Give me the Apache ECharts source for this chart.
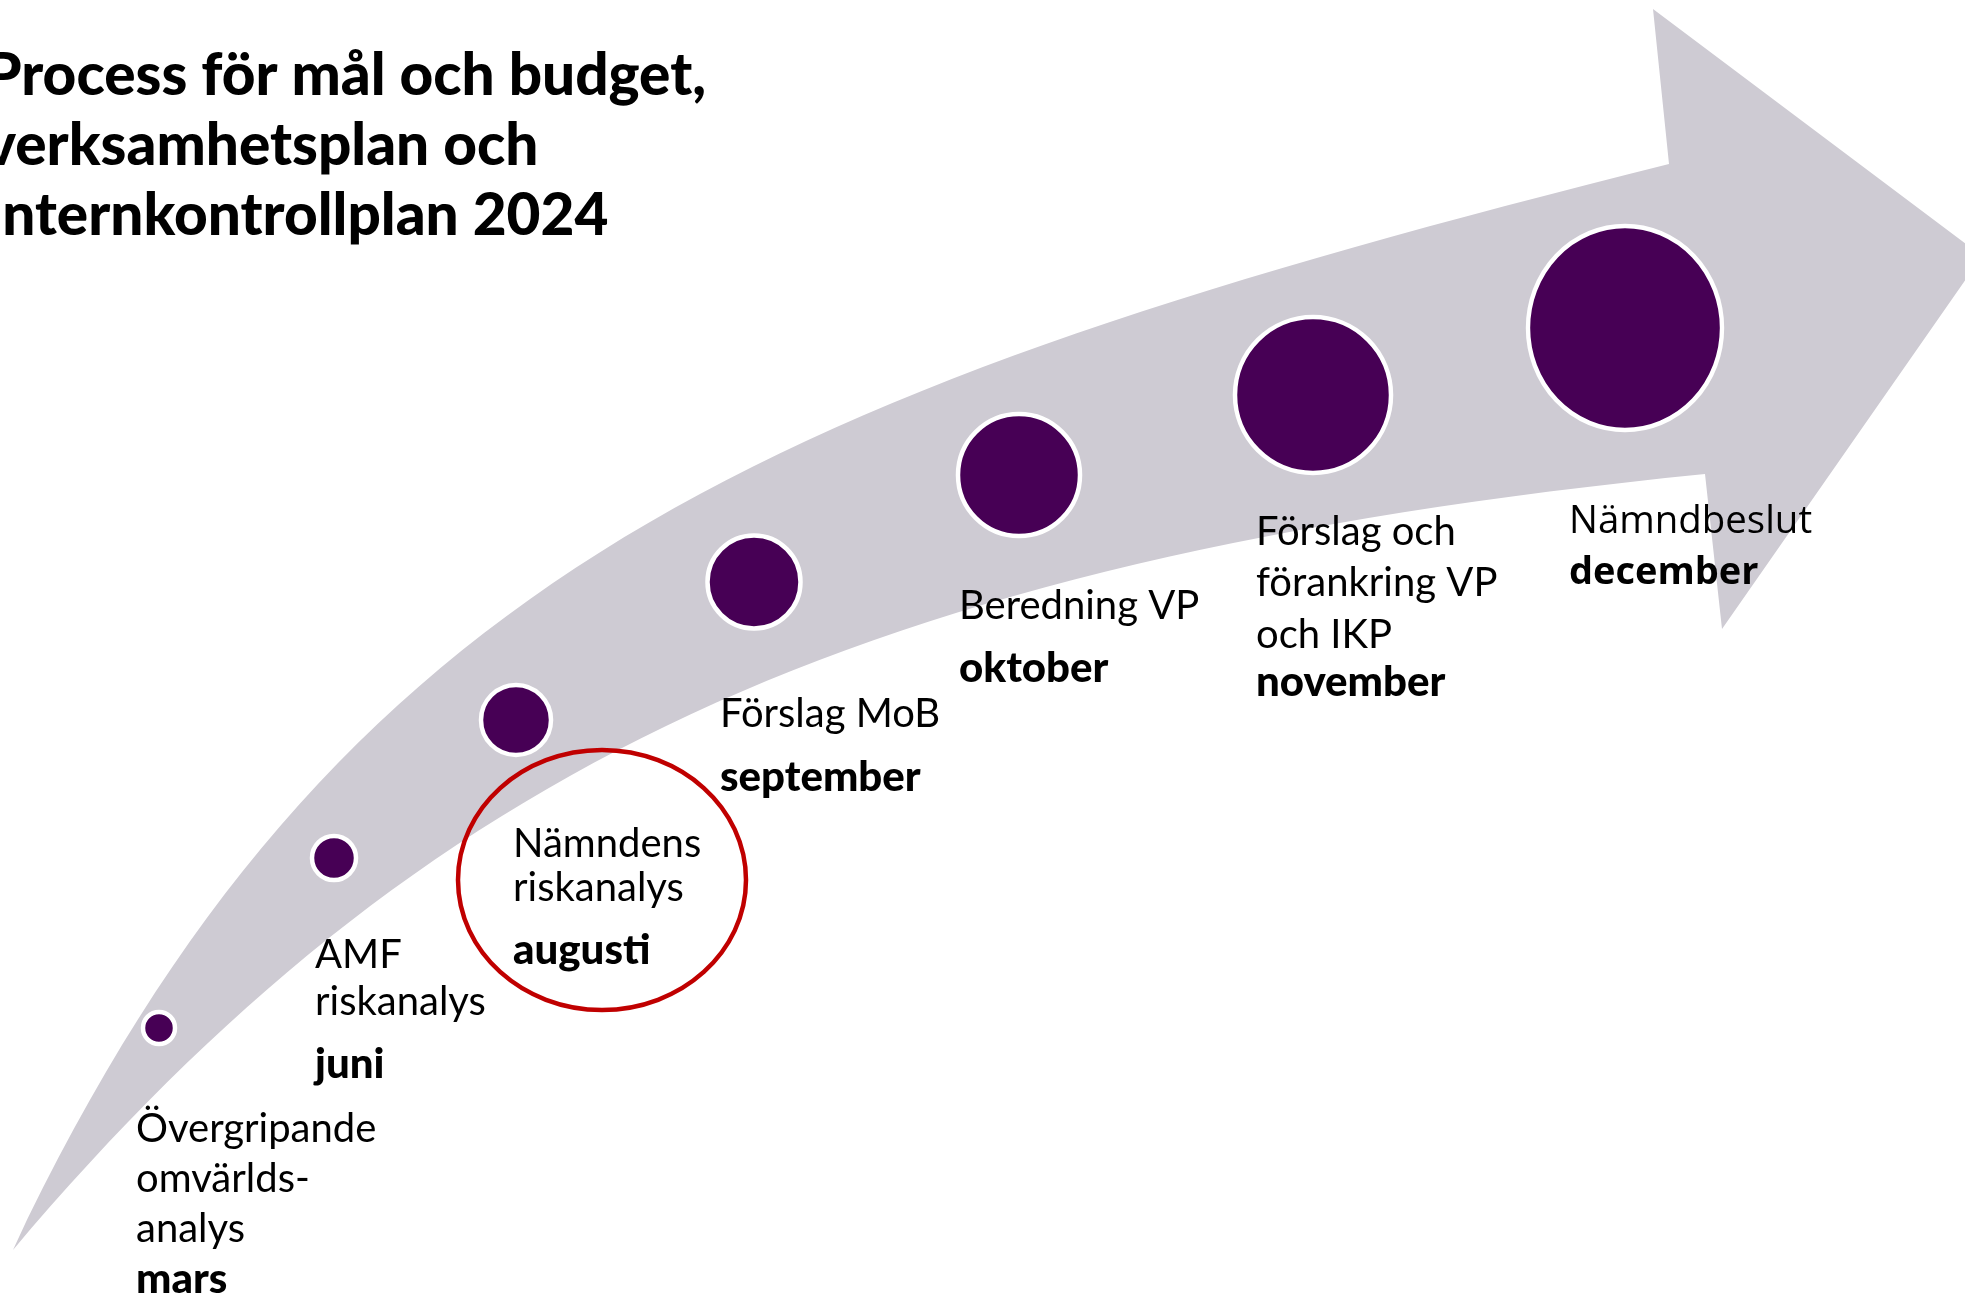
<!DOCTYPE html>
<html><head><meta charset="utf-8">
<script src="https://cdn.jsdelivr.net/npm/echarts@6/dist/echarts.min.js"></script>
<style>html,body{margin:0;padding:0;background:#fff;overflow:hidden}#c{width:1965px;height:1298px}</style>
</head><body><div id="c"></div>
<script>
// ---- data ----
const titleLines = ['Process för mål och budget,', 'verksamhetsplan och', 'Internkontrollplan 2024'];
const months = ['mars', 'juni', 'augusti', 'september', 'oktober', 'november', 'december'];
const steps = [
  ['Övergripande', 'omvärlds-', 'analys'],
  ['AMF', 'riskanalys'],
  ['Nämndens', 'riskanalys'],
  ['Förslag MoB'],
  ['Beredning VP'],
  ['Förslag och', 'förankring VP', 'och IKP'],
  ['Nämndbeslut']
];

// ---- layout (diagram space, 1965 x 1298) ----
const dotX = [159, 334, 516, 754, 1019, 1313, 1625];
const dotY = [1028, 858, 720, 582, 475, 395, 328];
const dotW = [32, 44, 70, 93, 122, 156, 194];
const dotH = [32, 44, 70, 93, 122, 156, 204];
const labelX = [136, 315, 513, 720, 959, 1256, 1569];
const labelY = [1141, 967, 856, 726, 618, 544, 534];
const lineGap = [50, 47, 44, 0, 0, 51.5, 0];
const monthGap = [51, 63, 63, 64, 63, 48, 51];
const arrowUpper = [[13, 1250], [333, 572], [772, 389], [1669, 164]];
const arrowHead = [[1653, 9], [1982, 256], [1722, 629], [1705, 474]];
const arrowLower = [[850, 560], [420, 770], [13, 1250]];
const ringCenter = [602, 880];
const ringRadius = [144, 130];

const W = 1965, H = 1298;
const FONT = 'Lato, "Noto Sans", sans-serif';
const FONT_DEC = '"Open Sans", sans-serif';
const chart = echarts.init(document.getElementById('c'), null, {renderer: 'canvas'});

function arrowRender(params, api) {
  const c = p => api.coord(p);
  const u = arrowUpper.map(c), h = arrowHead.map(c), l = arrowLower.map(c);
  const d = 'M' + u[0].join(' ') +
    ' C' + u[1].join(' ') + ' ' + u[2].join(' ') + ' ' + u[3].join(' ') +
    h.map(p => ' L' + p.join(' ')).join('') +
    ' C' + l[0].join(' ') + ' ' + l[1].join(' ') + ' ' + l[2].join(' ') + ' Z';
  return {type: 'path', shape: {pathData: d}, style: {fill: '#CECBD3'}};
}

function ringRender(params, api) {
  const c = api.coord(ringCenter);
  const e = api.coord([ringCenter[0] + ringRadius[0], ringCenter[1] + ringRadius[1]]);
  return {type: 'ellipse', shape: {cx: c[0], cy: c[1], rx: Math.abs(e[0] - c[0]), ry: Math.abs(e[1] - c[1])},
    style: {fill: 'none', stroke: '#C00000', lineWidth: 4.5}};
}

function labelRender(params, api) {
  const i = params.dataIndex;
  const lines = steps[i];
  const dec = i === 6;
  const fam = dec ? FONT_DEC : FONT;
  const size = dec ? 38.4 : 40;
  const msize = dec ? 38 : 42;
  const bw = dec ? 'bold' : '900';
  const children = [];
  lines.forEach((t, j) => {
    const p = api.coord([labelX[i], labelY[i] + j * lineGap[i]]);
    children.push({type: 'text', style: {text: t, x: p[0], y: p[1] - 0.3 * size, fill: '#000',
      font: 'normal ' + size + 'px ' + fam, verticalAlign: 'middle', align: 'left'}});
  });
  const mp = api.coord([labelX[i], labelY[i] + (lines.length - 1) * lineGap[i] + monthGap[i]]);
  children.push({type: 'text', style: {text: months[i], x: mp[0], y: mp[1] - 0.3 * msize, fill: '#000',
    font: bw + ' ' + msize + 'px ' + fam, verticalAlign: 'middle', align: 'left'}});
  return {type: 'group', children};
}

chart.setOption({
  animation: false,
  backgroundColor: '#fff',
  grid: {left: 0, right: 0, top: 0, bottom: 0, containLabel: false},
  xAxis: {type: 'value', min: 0, max: W, show: false},
  yAxis: {type: 'value', min: 0, max: H, inverse: true, show: false},
  graphic: [{
    type: 'text', x: -15, y: 41, z: 100,
    style: {text: titleLines.join('\n'), font: '900 58.5px ' + FONT, lineHeight: 70, fill: '#000'}
  }],
  series: [
    {type: 'custom', coordinateSystem: 'cartesian2d', data: [[0, 0]], renderItem: arrowRender, z: 1, silent: true, clip: false},
    {type: 'custom', coordinateSystem: 'cartesian2d', data: [ringCenter], renderItem: ringRender, z: 2, silent: true, clip: false},
    {type: 'scatter', data: dotX.map((x, i) => [x, dotY[i]]), z: 3, silent: true,
      symbol: 'circle',
      symbolSize: (v, p) => [dotW[p.dataIndex], dotH[p.dataIndex]],
      itemStyle: {color: '#470055', borderColor: '#fff', borderWidth: 4.5, opacity: 1}},
    {type: 'custom', coordinateSystem: 'cartesian2d', data: labelX.map((x, i) => [x, labelY[i]]), renderItem: labelRender, z: 4, silent: true, clip: false}
  ]
});
</script></body></html>
